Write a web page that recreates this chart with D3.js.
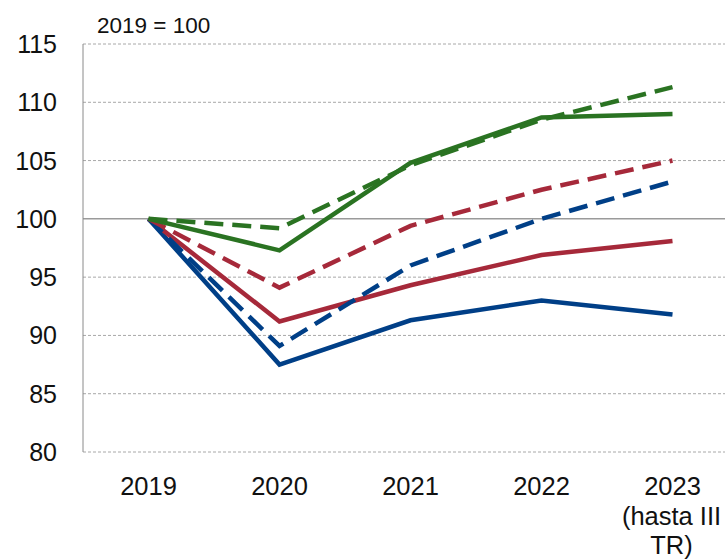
<!DOCTYPE html>
<html>
<head>
<meta charset="utf-8">
<script src="https://cdn.jsdelivr.net/npm/d3@7"></script>
<style>
  body { margin: 0; background: #fff; }
  svg text { font-family: "Liberation Sans", Arial, sans-serif; fill: #111; }
</style>
</head>
<body>
<svg id="chart" width="725" height="560"></svg>
<script>
// ######## data
const years = ["2019", "2020", "2021", "2022", "2023"];
const yTicks = [80, 85, 90, 95, 100, 105, 110, 115];

const greenSolid = [100, 97.3, 104.8, 108.7, 109.0];
const greenDash  = [100, 99.2, 104.6, 108.5, 111.3];
const redDash    = [100, 94.1, 99.4, 102.5, 105.0];
const blueDash   = [100, 89.1, 96.0, 100.0, 103.2];
const redSolid   = [100, 91.2, 94.3, 96.9, 98.1];
const blueSolid  = [100, 87.5, 91.3, 93.0, 91.8];

const series = [
  { values: blueSolid,  color: "#003f87", dash: null },
  { values: redSolid,   color: "#a6293a", dash: null },
  { values: blueDash,   color: "#003f87", dash: "19,9" },
  { values: redDash,    color: "#a6293a", dash: "19,9" },
  { values: greenSolid, color: "#2a7322", dash: null },
  { values: greenDash,  color: "#2a7322", dash: "19,9" }
];

// ######## layout
const svg = d3.select("#chart");
const plotLeft = 83, plotTop = 44, plotBottom = 452, plotRight = 738;

const x = d3.scaleBand().domain(years).range([plotLeft, plotRight]);
const y = d3.scaleLinear().domain([80, 115]).range([plotBottom, plotTop]);

// gridlines
svg.append("g").selectAll("line")
  .data(yTicks)
  .join("line")
    .attr("x1", plotLeft).attr("x2", 725)
    .attr("y1", d => y(d)).attr("y2", d => y(d))
    .attr("stroke", d => d === 100 ? "#9a9a9a" : "#a8a8a8")
    .attr("stroke-width", d => d === 100 ? 1.5 : 1)
    .attr("stroke-dasharray", d => d === 100 ? null : "3,2");

// left axis line
svg.append("line")
  .attr("x1", plotLeft).attr("x2", plotLeft)
  .attr("y1", plotTop).attr("y2", plotBottom)
  .attr("stroke", "#8a8a8a").attr("stroke-width", 1);

// y labels
svg.append("g").selectAll("text")
  .data(yTicks)
  .join("text")
    .attr("x", 57).attr("y", d => y(d) + 9)
    .attr("text-anchor", "end")
    .attr("font-size", 25)
    .text(d => d);

// x labels
const xl = svg.append("g");
years.forEach(yr => {
  xl.append("text")
    .attr("x", x(yr) + x.bandwidth() / 2)
    .attr("y", 495)
    .attr("text-anchor", "middle")
    .attr("font-size", 25.5)
    .text(yr);
});
const last = x("2023") + x.bandwidth() / 2;
xl.append("text").attr("x", last - 1).attr("y", 525).attr("text-anchor", "middle")
  .attr("font-size", 25.5).text("(hasta III");
xl.append("text").attr("x", last - 1).attr("y", 554).attr("text-anchor", "middle")
  .attr("font-size", 25.5).text("TR)");

// unit note
svg.append("text")
  .attr("x", 97).attr("y", 33)
  .attr("font-size", 22.5)
  .text("2019 = 100");

// lines
const line = d3.line()
  .x((d, i) => x(years[i]) + x.bandwidth() / 2)
  .y(d => y(d));

svg.append("g").selectAll("path")
  .data(series)
  .join("path")
    .attr("d", d => line(d.values))
    .attr("fill", "none")
    .attr("stroke", d => d.color)
    .attr("stroke-width", 4.5)
    .attr("stroke-dasharray", d => d.dash);
</script>
</body>
</html>
